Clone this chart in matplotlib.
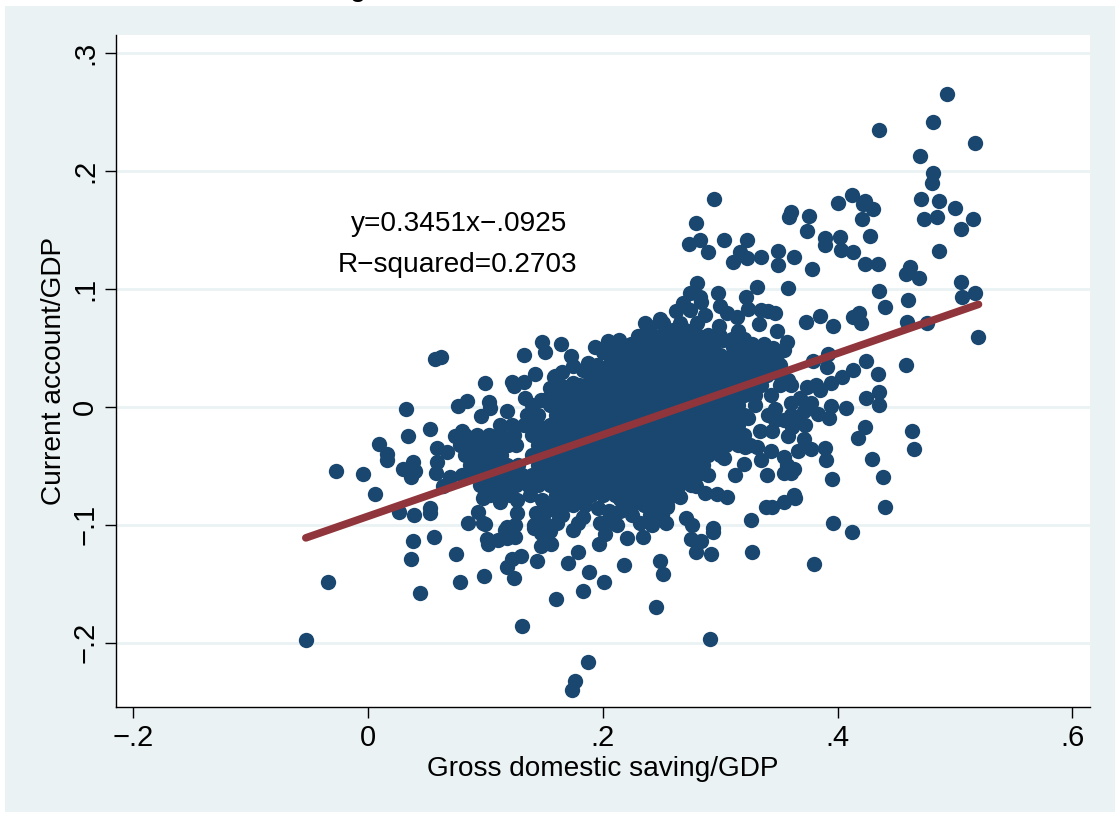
#!/usr/bin/env python3
import numpy as np
import matplotlib
matplotlib.use("Agg")
import matplotlib.pyplot as plt
from matplotlib.patches import Rectangle

plt.rcParams['font.family'] = ['Liberation Sans', 'DejaVu Sans']

# points, (saving, current account)
left_tail = [
    (-.053, -.198), (-.034, -.148), (-.027, -.054), (-.004, -.057), (.006, -.074), (.009, -.031),
    (.016, -.040), (.016, -.045), (.032, -.002), (.034, -.025), (.053, -.019), (.057, .041),
    (.062, .042), (.030, -.053), (.038, -.047), (.040, -.054), (.037, -.059), (.059, -.035),
    (.059, -.047), (.058, -.056), (.026, -.089), (.039, -.092), (.053, -.086), (.053, -.090),
    (.038, -.114), (.037, -.129), (.056, -.110), (.075, -.125), (.078, -.148), (.044, -.158),
    (.099, -.143), (.131, -.186), (.124, -.145), (.118, -.136), (.123, -.129), (.130, -.126),
    (.144, -.131), (.160, -.163), (.077, .001), (.084, .005), (.100, .020), (.103, .004),
    (.104, -.001), (.096, -.008), (.118, -.003), (.133, .044), (.148, .055), (.151, .047),
    (.164, .053), (.142, .028), (.123, .021), (.124, .018), (.133, .021), (.134, .008),
    (.147, .006), (.158, .025), (.080, -.020), (.074, -.025), (.067, -.038), (.070, -.059),
    (.064, -.067), (.098, -.077), (.085, -.098), (.094, -.089), (.098, -.098), (.112, -.081),
    (.127, -.079), (.127, -.090), (.118, -.102), (.125, -.100), (.100, -.099), (.101, -.112),
    (.102, -.116), (.111, -.113), (.118, -.111), (.125, -.110), (.117, -.104), (.141, -.103),
    (.147, -.107), (.147, -.118), (.156, -.116), (.149, -.096), (.161, -.098),
]
left_lobe = [
    (.112, -.015), (.123, -.015), (.133, -.015), (.083, -.024), (.093, -.024), (.103, -.024),
    (.113, -.024), (.124, -.024), (.078, -.032), (.089, -.032), (.099, -.032), (.109, -.032),
    (.119, -.032), (.083, -.041), (.093, -.041), (.103, -.041), (.113, -.041), (.087, -.049),
    (.097, -.049), (.107, -.049), (.118, -.049), (.080, -.058), (.090, -.058), (.100, -.058),
    (.111, -.058), (.121, -.058), (.095, -.066), (.106, -.066), (.116, -.066), (.126, -.066),
    (.136, -.066), (.104, -.075), (.121, -.075), (.138, -.075), (.128, -.049), (.131, -.058),
    (.126, -.032), (.100, -.073), (.112, -.073),
]
lower_mid = [
    (.187, -.216), (.176, -.232), (.174, -.240), (.251, -.142), (.249, -.131), (.245, -.170),
    (.291, -.197), (.218, -.134), (.201, -.148), (.188, -.140), (.183, -.156), (.170, -.132),
    (.179, -.123), (.197, -.116), (.202, -.108), (.221, -.111), (.234, -.110), (.212, -.100),
    (.198, -.098), (.175, -.104), (.179, -.098), (.183, -.093), (.271, -.094), (.276, -.100),
    (.275, -.112), (.284, -.114), (.279, -.123), (.292, -.125), (.294, -.103), (.294, -.106),
    (.254, -.098), (.242, -.100), (.232, -.098), (.326, -.096), (.327, -.123), (.396, -.098),
    (.412, -.106), (.380, -.133), (.339, -.085), (.344, -.085), (.354, -.081), (.364, -.077),
    (.363, -.075), (.306, -.076), (.297, -.074), (.287, -.073), (.279, -.067), (.266, -.076),
    (.255, -.085), (.204, -.096), (.210, -.098), (.196, -.086), (.174, -.081), (.158, -.086),
    (.147, -.098), (.141, -.100), (.148, -.079), (.150, -.090), (.143, -.090), (.155, -.105),
    (.160, -.088), (.165, -.092), (.205, -.088), (.215, -.088), (.225, -.092), (.240, -.092),
    (.250, -.092), (.215, -.078),
]
lower_right = [
    (.313, -.058), (.320, -.048), (.340, -.058), (.335, -.045), (.354, -.056), (.360, -.056),
    (.363, -.053), (.357, -.049), (.354, -.042), (.343, -.037), (.366, -.037), (.377, -.036),
    (.389, -.035), (.390, -.045), (.395, -.061), (.429, -.044), (.439, -.059), (.440, -.085),
    (.417, -.026), (.423, -.017), (.463, -.020), (.465, -.036), (.371, -.027), (.358, -.025),
    (.334, -.020), (.344, -.020), (.331, -.034), (.321, -.034), (.303, -.043), (.341, -.007),
    (.347, -.002), (.360, .003), (.368, .008), (.377, .003), (.366, -.009), (.354, -.011),
    (.361, -.017), (.358, .023), (.324, -.009), (.407, -.001), (.394, .001), (.393, -.009),
    (.383, -.006), (.435, .013), (.424, .008), (.435, .002), (.374, .017), (.382, .019),
    (.385, .014), (.394, .020), (.404, .025), (.413, .031), (.424, .039), (.434, .028),
    (.458, .036), (.391, .034), (.392, .045), (.379, .039), (.371, -.003), (.360, -.007),
    (.347, -.011), (.372, -.015),
]
upper_right = [
    (.493, .265), (.481, .242), (.435, .235), (.517, .224), (.470, .213), (.481, .198),
    (.480, .190), (.412, .180), (.423, .175), (.422, .172), (.430, .168), (.400, .173),
    (.421, .159), (.428, .145), (.471, .176), (.486, .175), (.474, .159), (.485, .161),
    (.500, .169), (.515, .159), (.505, .151), (.486, .132), (.295, .176), (.279, .156),
    (.283, .142), (.273, .138), (.290, .131), (.303, .142), (.323, .142), (.317, .131),
    (.311, .123), (.323, .126), (.335, .127), (.349, .132), (.349, .120), (.363, .127),
    (.360, .165), (.359, .161), (.376, .162), (.374, .149), (.378, .117), (.389, .143),
    (.389, .137), (.402, .144), (.403, .133), (.413, .131), (.423, .121), (.434, .121),
    (.462, .119), (.458, .113), (.469, .109), (.505, .106), (.506, .093), (.517, .097),
    (.435, .098), (.460, .091), (.440, .085), (.459, .072), (.476, .071), (.520, .059),
    (.358, .101), (.331, .102), (.322, .093), (.324, .083), (.335, .082), (.347, .080),
    (.341, .081), (.333, .070), (.348, .064), (.315, .064), (.299, .069), (.314, .076),
    (.306, .080), (.300, .086), (.298, .097), (.280, .105), (.284, .089), (.283, .093),
    (.274, .097), (.268, .088), (.373, .072), (.385, .077), (.396, .069), (.413, .076),
    (.418, .080), (.420, .071), (.357, .055), (.354, .048), (.337, .053), (.327, .053),
    (.311, .051), (.302, .057), (.327, .040), (.340, .042), (.262, .081), (.249, .075),
    (.236, .071), (.274, .082), (.287, .078),
]
upper_edge = [
    (.193, .051), (.204, .056), (.214, .057), (.222, .050), (.173, .043), (.187, .037),
    (.183, .031), (.175, .020), (.168, .008), (.155, .016), (.159, .026), (.234, .061),
    (.251, .071), (.266, .071), (.280, .071), (.349, .046), (.224, .053), (.232, .053),
    (.342, .036), (.351, .036), (.351, .027), (.351, .019), (.360, .019), (.330, .010),
    (.343, .010), (.330, .002), (.135, -.007), (.145, -.007), (.140, .002), (.165, .030),
    (.175, .035), (.165, .018), (.175, .012), (.160, .010), (.150, .006), (.170, .002),
    (.200, .047), (.210, .050), (.235, .050), (.230, .060), (.240, .068), (.260, .065),
    (.270, .065), (.290, .060), (.300, .060), (.310, .058), (.320, .058), (.320, .050),
    (.330, .047), (.345, .050),
]

# the solid middle of the cloud, one list of saving values per current account level
core_levels = [.061, .053, .044, .036, .027, .019, .010, .002, -.007, -.015, -.024, -.032,
               -.041, -.049, -.058, -.066, -.075, -.083]
core_saving = [
    [.24, .25, .26, .27, .28, .29],
    [.245, .255, .265, .275, .285, .295],
    [.21, .22, .23, .24, .25, .26, .27, .28, .29, .30, .31, .32, .33, .34],
    [.195, .205, .215, .225, .235, .245, .255, .265, .275, .285, .295, .305, .315, .325, .335],
    [.19, .20, .21, .22, .23, .24, .25, .26, .27, .28, .29, .30, .31, .32, .33, .34],
    [.18, .185, .195, .205, .215, .225, .235, .245, .255, .265, .275, .285, .295, .305, .315, .325, .335],
    [.18, .19, .20, .21, .22, .23, .24, .25, .26, .27, .28, .29, .30, .31, .32],
    [.155, .165, .175, .185, .195, .205, .215, .225, .235, .245, .255, .265, .275, .285, .295, .305, .315],
    [.16, .17, .18, .19, .20, .21, .22, .23, .24, .25, .26, .27, .28, .29, .30, .31, .32],
    [.135, .145, .155, .165, .175, .185, .195, .205, .215, .225, .235, .245, .255, .265, .275, .285, .295, .305, .315],
    [.14, .15, .16, .17, .18, .19, .20, .21, .22, .23, .24, .25, .26, .27, .28, .29, .30, .31, .32],
    [.145, .155, .165, .175, .185, .195, .205, .215, .225, .235, .245, .255, .265, .275, .285, .295, .305, .315, .325],
    [.14, .15, .16, .17, .18, .19, .20, .21, .22, .23, .24, .25, .26, .27, .28, .29, .30],
    [.145, .155, .165, .175, .185, .195, .205, .215, .225, .235, .245, .255, .265, .275, .285],
    [.14, .15, .16, .17, .18, .19, .20, .21, .22, .23, .24, .25, .26, .27, .28, .29],
    [.145, .155, .165, .175, .185, .195, .205, .215, .225, .235, .245, .255, .265, .275],
    [.16, .17, .18, .19, .20, .21, .22, .23, .24, .25, .26],
    [.155, .165, .175, .185, .225, .235, .245, .255],
]

# fitted line ends
fit_x = [-.053, .52]
fit_y = [-.111, .087]

x_ticks = [-.2, 0, .2, .4, .6]
x_labels = ["\u2212.2", "0", ".2", ".4", ".6"]
y_ticks = [-.2, -.1, 0, .1, .2, .3]
y_labels = ["\u2212.2", "\u2212.1", "0", ".1", ".2", ".3"]

navy = "#1a476f"
cranberry = "#90353b"
panel = "#eaf2f3"

pts = np.array(left_tail + left_lobe + lower_mid + lower_right + upper_right + upper_edge)
core = np.array([(x, lev) for lev, row in zip(core_levels, core_saving) for x in row])
pts = np.vstack([pts, core])

W, H = 1115, 813
fig = plt.figure(figsize=(W / 100, H / 100), dpi=100, facecolor="white")
fig.patches.append(Rectangle((5 / W, 1 - 812 / H), (W - 5) / W, 806 / H, transform=fig.transFigure,
                             facecolor=panel, edgecolor="none", zorder=-5))

ax = fig.add_axes([116 / W, 1 - 707 / H, (1090 - 116) / W, (707 - 35) / H])
ax.set_facecolor("white")
ax.set_xlim(-.2147, .615)
ax.set_ylim(-.2544, .3154)

for tick in y_ticks:
    ax.axhline(tick, color=panel, lw=2, zorder=1)

ax.scatter(pts[:, 0], pts[:, 1], s=122, color=navy, linewidths=0, zorder=2)
ax.plot(fit_x, fit_y, color=cranberry, lw=5.5, solid_capstyle="round", zorder=3)

ax.text(.0775, .1555, "y=0.3451x\u2212.0925", fontsize=20.2, ha="center", va="center")
ax.text(.0765, .1205, "R\u2212squared=0.2703", fontsize=20.2, ha="center", va="center")

ax.spines["top"].set_visible(False)
ax.spines["right"].set_visible(False)
ax.spines["left"].set_linewidth(1)
ax.spines["bottom"].set_linewidth(1)

ax.set_xticks(x_ticks)
ax.set_xticklabels(x_labels)
ax.set_yticks(y_ticks)
ax.set_yticklabels(y_labels, rotation=90, va="center")
ax.tick_params(axis="both", length=8, width=1, labelsize=21, pad=4)

ax.set_xlabel("Gross domestic saving/GDP", fontsize=20.2, labelpad=3)
ax.set_ylabel("Current account/GDP", fontsize=20.2, labelpad=3)

# bottom of a title letter is all that is left at the top edge
fig.text(358 / W, 1 + 4 / H, "g", fontsize=21, ha="center", va="baseline")

fig.savefig("out.png", dpi=100, facecolor="white")
